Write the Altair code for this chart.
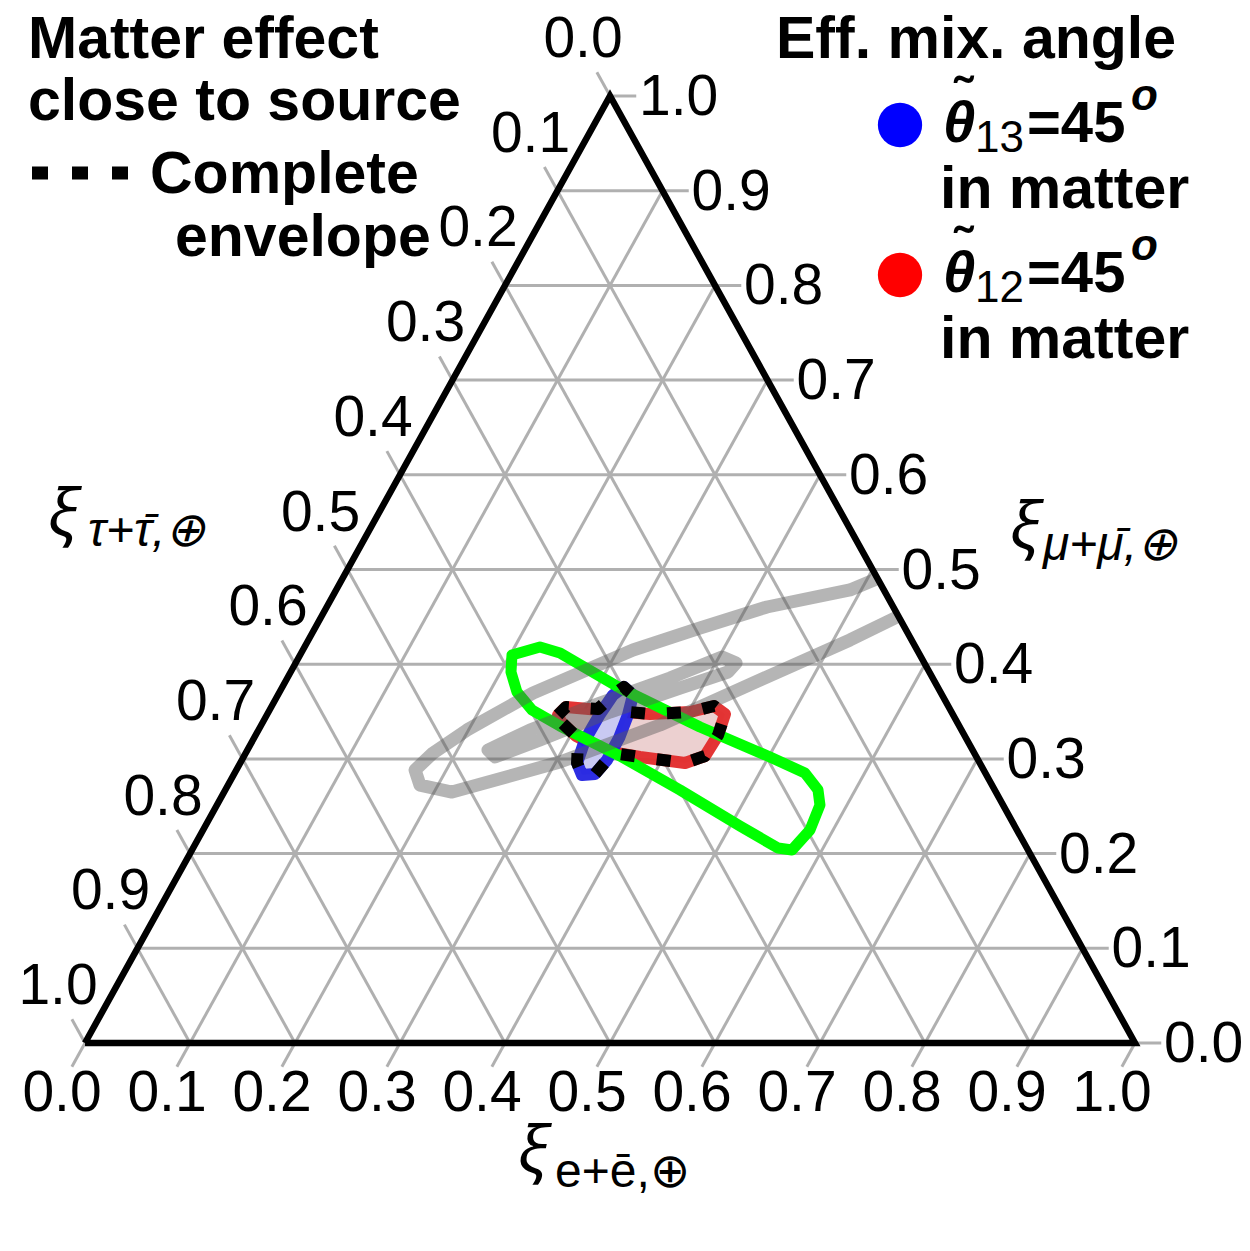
import altair as alt
import pandas as pd

# ---------------- data ----------------
tick_vals = [0.0, 0.1, 0.2, 0.3, 0.4, 0.5, 0.6, 0.7, 0.8, 0.9, 1.0]
tick_labels = ["0.0", "0.1", "0.2", "0.3", "0.4", "0.5", "0.6", "0.7", "0.8", "0.9", "1.0"]

# curves given as (xi_e, xi_mu); xi_tau = 1 - xi_e - xi_mu
green_e = [0.2018, 0.2242, 0.2465, 0.3221, 0.4189, 0.5014, 0.5431, 0.5645, 0.5743, 0.5780,
           0.5714, 0.5570, 0.5092, 0.4331, 0.3580, 0.2850, 0.2499, 0.2261, 0.2098, 0.2018]
green_mu = [0.4097, 0.4182, 0.4118, 0.3749, 0.3337, 0.3020, 0.2851, 0.2672, 0.2513, 0.2249,
            0.2038, 0.2059, 0.2291, 0.2672, 0.3031, 0.3347, 0.3516, 0.3706, 0.3918, 0.4097]

red_e = [0.2773, 0.2807, 0.3147, 0.3644, 0.4014, 0.4211, 0.4358, 0.4403, 0.4390, 0.4236,
         0.3776, 0.3410, 0.3055, 0.2838, 0.2773]
red_mu = [0.3464, 0.3548, 0.3516, 0.3474, 0.3495, 0.3559, 0.3474, 0.3252, 0.3031, 0.2957,
          0.3020, 0.3083, 0.3242, 0.3390, 0.3464]

blue_e = [0.3253, 0.3382, 0.3439, 0.3476, 0.3477, 0.3437, 0.3318, 0.3208, 0.3162, 0.3168,
          0.3192, 0.3253]
blue_mu = [0.3759, 0.3675, 0.3464, 0.3221, 0.2988, 0.2841, 0.2830, 0.2957, 0.3200, 0.3474,
           0.3675, 0.3759]

env_e = [0.2773, 0.2807, 0.3123, 0.3192, 0.3253, 0.3382, 0.3442, 0.3644, 0.4014, 0.4211,
         0.4358, 0.4403, 0.4390, 0.4236, 0.3776, 0.3488, 0.3477, 0.3437, 0.3318, 0.3208,
         0.3085, 0.2838, 0.2773]
env_mu = [0.3464, 0.3548, 0.3527, 0.3675, 0.3759, 0.3675, 0.3495, 0.3474, 0.3495, 0.3559,
          0.3474, 0.3252, 0.3031, 0.2957, 0.3020, 0.3062, 0.2988, 0.2841, 0.2830, 0.2957,
          0.3221, 0.3390, 0.3464]

gray1_e = [0.5069, 0.4894, 0.4193, 0.3666, 0.3144, 0.2419, 0.1985, 0.1783, 0.1702, 0.1828,
           0.2170, 0.3040, 0.3797, 0.4512, 0.5158, 0.5470]
gray1_mu = [0.4889, 0.4784, 0.4604, 0.4382, 0.4150, 0.3696, 0.3305, 0.3062, 0.2883, 0.2724,
            0.2650, 0.2967, 0.3358, 0.3833, 0.4256, 0.4488]

gray2_e = [0.2291, 0.2585, 0.3110, 0.3644, 0.4029, 0.4194, 0.4165, 0.3793, 0.3252, 0.2733,
           0.2395, 0.2291]
gray2_mu = [0.3094, 0.3305, 0.3590, 0.3854, 0.4076, 0.4013, 0.3918, 0.3749, 0.3495, 0.3200,
            0.3020, 0.3094]

vert_e = [0.0, 1.0, 0.0, 0.0]
vert_mu = [0.0, 0.0, 1.0, 0.0]

# ---------------- layout constants ----------------
W, H = 1050, 947
OX, OY = 85, 96
TICK = 0.025
GRID = "#b0b0b0"

xs = alt.Scale(domain=[0, 1], nice=False, zero=False)
ys = alt.Scale(domain=[0, 1], nice=False, zero=False)


def curve_df(e, mu):
    return pd.DataFrame({"i": list(range(len(e))), "e": e, "mu": mu})


def curve(e, mu, **kw):
    return (
        alt.Chart(curve_df(e, mu))
        .transform_calculate(cx="datum.e + datum.mu / 2")
        .mark_line(**kw)
        .encode(
            x=alt.X("cx:Q", scale=xs, axis=None),
            y=alt.Y("mu:Q", scale=ys, axis=None),
            order="i:Q",
        )
    )


# grid + ticks
rows = []
for t in tick_vals:
    rows.append({"e1": 0.0, "m1": t, "e2": 1 - t + TICK, "m2": t})           # const mu
    rows.append({"e1": t, "m1": -TICK, "e2": t, "m2": 1 - t})               # const e
    rows.append({"e1": -TICK, "m1": 1 - t + TICK, "e2": 1 - t, "m2": 0.0})  # const tau
grid_df = pd.DataFrame(rows)

grid = (
    alt.Chart(grid_df)
    .transform_calculate(x1="datum.e1 + datum.m1 / 2", x2="datum.e2 + datum.m2 / 2")
    .mark_rule(color=GRID, strokeWidth=3)
    .encode(
        x=alt.X("x1:Q", scale=xs, axis=None),
        y=alt.Y("m1:Q", scale=ys, axis=None),
        x2="x2:Q",
        y2="m2:Q",
    )
)

lab_df = pd.DataFrame({"t": tick_vals, "label": tick_labels})
LABFONT = dict(font="Liberation Sans", fontSize=57, color="black")

bottom_labels = (
    alt.Chart(lab_df)
    .transform_calculate(cx="datum.t", cy="0")
    .mark_text(align="center", baseline="middle", dx=-23, dy=51, **LABFONT)
    .encode(x=alt.X("cx:Q", scale=xs, axis=None), y=alt.Y("cy:Q", scale=ys, axis=None), text="label:N")
)
right_labels = (
    alt.Chart(lab_df)
    .transform_calculate(cx="1 - datum.t / 2", cy="datum.t")
    .mark_text(align="left", baseline="middle", dx=29, dy=2, **LABFONT)
    .encode(x=alt.X("cx:Q", scale=xs, axis=None), y=alt.Y("cy:Q", scale=ys, axis=None), text="label:N")
)
left_labels = (
    alt.Chart(lab_df)
    .transform_calculate(cx="(1 - datum.t) / 2", cy="1 - datum.t")
    .mark_text(align="center", baseline="middle", dx=-27, dy=-56, **LABFONT)
    .encode(x=alt.X("cx:Q", scale=xs, axis=None), y=alt.Y("cy:Q", scale=ys, axis=None), text="label:N")
)

red = curve(red_e, red_mu, stroke="#e22a2a", fill="#ecd0d0", strokeWidth=12,
            strokeJoin="round", strokeCap="round", strokeOpacity=0.95)
blue = curve(blue_e, blue_mu, stroke="#2323e0", fill="#c9c9f2", strokeWidth=12,
             strokeJoin="round", strokeCap="round", strokeOpacity=0.95)
green = curve(green_e, green_mu, stroke="#00ff00", strokeWidth=11,
              strokeJoin="round", strokeCap="round")
gray1 = curve(gray1_e, gray1_mu, stroke="#5a5a5a", strokeOpacity=0.45, strokeWidth=13,
              strokeJoin="round", strokeCap="round")
gray2 = curve(gray2_e, gray2_mu, stroke="#5a5a5a", strokeOpacity=0.45, strokeWidth=13,
              strokeJoin="round", strokeCap="round")
envelope = curve(env_e, env_mu, stroke="black", strokeWidth=12, strokeDash=[14, 22],
                 strokeCap="butt", strokeJoin="round")
edges = curve(vert_e, vert_mu, stroke="black", strokeWidth=6.5, strokeJoin="miter")

one = pd.DataFrame({"k": [0]})


def txt(s, px, py, size, weight="normal", style="normal", font="Liberation Sans", align="left"):
    return (
        alt.Chart(one)
        .mark_text(text=s, font=font, fontSize=size, fontWeight=weight, fontStyle=style,
                   align=align, baseline="alphabetic", color="black")
        .encode(x=alt.value(px - OX), y=alt.value(py - OY))
    )


BF = 59
XI = dict(font="Noto Sans", style="italic")
texts = [
    # axis titles
    txt("ξ", 518, 1172, 64, **XI),
    txt("e+ē,⊕", 555, 1187, 48),
    txt("ξ", 48, 535, 64, **XI),
    txt("τ+τ̄,⊕", 88, 546, 48, font="Liberation Sans", style="italic"),
    txt("ξ", 1010, 548, 64, **XI),
    txt("μ+μ̄,⊕", 1043, 560, 48, font="Liberation Sans", style="italic"),
    # left legend
    txt("Matter effect", 28, 58, BF, weight="bold"),
    txt("close to source", 28, 120, BF, weight="bold"),
    txt("Complete", 150, 193, BF, weight="bold"),
    txt("envelope", 175, 256, BF, weight="bold"),
    # right legend
    txt("Eff. mix. angle", 776, 58, BF, weight="bold"),
    txt("˜", 963, 114, 54, weight="bold", align="center"),
    txt("θ", 943, 142, 58, weight="bold", style="italic"),
    txt("13", 975, 152, 44),
    txt("=45", 1027, 142, 58, weight="bold"),
    txt("o", 1131, 110, 44, weight="bold", style="italic"),
    txt("in matter", 940, 208, BF, weight="bold"),
    txt("˜", 963, 264, 54, weight="bold", align="center"),
    txt("θ", 943, 292, 58, weight="bold", style="italic"),
    txt("12", 975, 302, 44),
    txt("=45", 1027, 292, 58, weight="bold"),
    txt("o", 1131, 260, 44, weight="bold", style="italic"),
    txt("in matter", 940, 358, BF, weight="bold"),
]

dots = [
    alt.Chart(one).mark_circle(size=1963, color="#0000ff", opacity=1)
    .encode(x=alt.value(900 - OX), y=alt.value(125 - OY)),
    alt.Chart(one).mark_circle(size=1963, color="#ff0000", opacity=1)
    .encode(x=alt.value(900 - OX), y=alt.value(275 - OY)),
]
dash_legend = (
    alt.Chart(one)
    .mark_rule(color="black", strokeWidth=13, strokeDash=[16, 24], strokeCap="butt")
    .encode(x=alt.value(32 - OX), x2=alt.value(130 - OX), y=alt.value(173 - OY))
)

chart = (
    alt.layer(grid, red, blue, green, gray1, gray2, envelope, edges,
              bottom_labels, right_labels, left_labels, dash_legend, *dots, *texts)
    .properties(
        width=W,
        height=H,
        padding={"left": OX - 8, "top": OY - 8, "right": 106, "bottom": 160},
        autosize=alt.AutoSizeParams(type="none"),
        background="white",
    )
    .configure_view(stroke=None)
)

chart.save("out.html", embed_options={"renderer": "svg", "actions": False})
